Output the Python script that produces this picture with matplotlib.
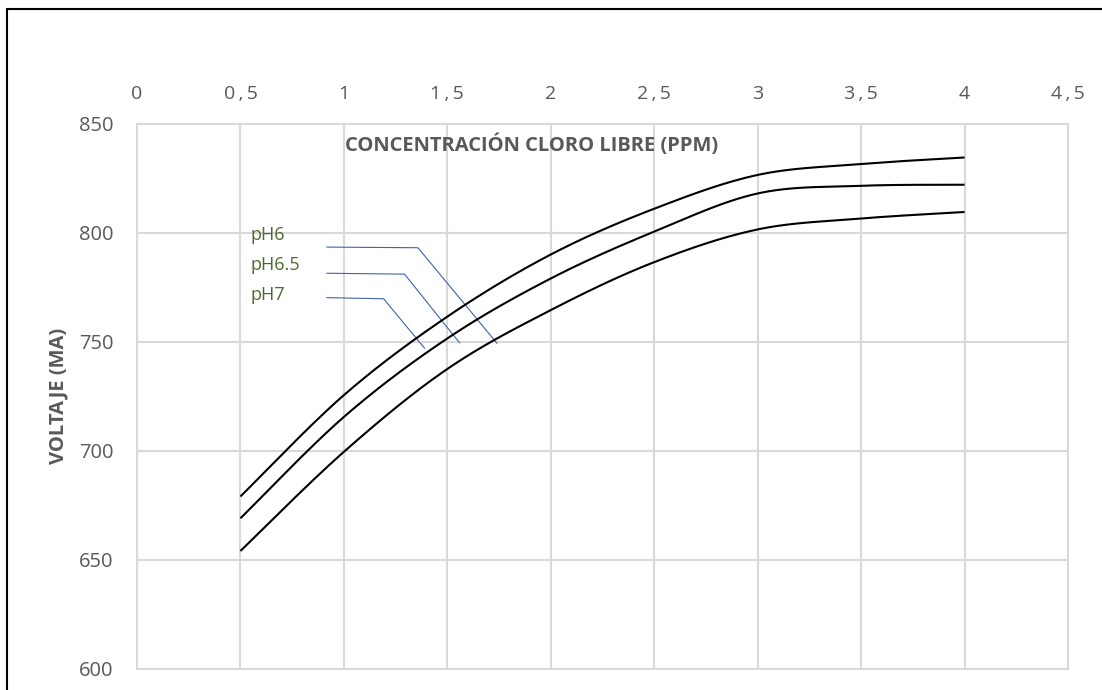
import numpy as np
import matplotlib
matplotlib.use("Agg")
import matplotlib.pyplot as plt
from matplotlib.patches import Rectangle

# Free chlorine concentration (ppm) and measured voltage for each pH
concentracion = [0.5, 1.0, 1.5, 2.0, 2.5, 3.0, 3.5, 4.0]
voltaje_ph6 = [679, 725.5, 761.5, 790, 811, 826.5, 831.5, 834.5]
voltaje_ph65 = [669, 715.5, 751.5, 779, 800.5, 818, 821.5, 822]
voltaje_ph7 = [654, 699.5, 737.5, 764.5, 786.5, 801.5, 806.5, 809.5]

x_ticks = [0, 0.5, 1, 1.5, 2, 2.5, 3, 3.5, 4, 4.5]
x_tick_labels = ["0", "0,5", "1", "1,5", "2", "2,5", "3", "3,5", "4", "4,5"]
y_ticks = [600, 650, 700, 750, 800, 850]

series_labels = ["pH6", "pH6.5", "pH7"]
# label text anchor and leader-line path (start, elbow, end) in data units
label_pos = [(0.55, 798.9), (0.55, 785.2), (0.55, 771.4)]
leader_paths = [
    [(0.918, 793.4), (1.358, 793.1), (1.740, 749.3)],
    [(0.918, 781.4), (1.293, 781.0), (1.559, 749.5)],
    [(0.918, 770.2), (1.192, 769.7), (1.390, 747.0)],
]


def smooth_curve(xs, ys, n=40):
    """Cubic Bezier smoothing through every point (spreadsheet-style)."""
    p = np.column_stack([xs, ys]).astype(float)
    m = len(p)
    out = []
    for i in range(m - 1):
        p0 = p[i]
        p3 = p[i + 1]
        prev = p[i - 1] if i > 0 else p[i]
        nxt = p[i + 2] if i + 2 < m else p[i + 1]
        c1 = p0 + (p3 - prev) / 6.0
        c2 = p3 - (nxt - p0) / 6.0
        t = np.linspace(0, 1, n)[:, None]
        seg = ((1 - t) ** 3) * p0 + 3 * ((1 - t) ** 2) * t * c1 \
            + 3 * (1 - t) * t ** 2 * c2 + t ** 3 * p3
        out.append(seg if i == 0 else seg[1:])
    s = np.vstack(out)
    return s[:, 0], s[:, 1]


def spaced(label):
    # letter-spaced tick text
    return "\u2009".join(label)


plt.rcParams["font.family"] = ["Open Sans", "DejaVu Sans"]

fig = plt.figure(figsize=(11.02, 6.90), dpi=100)
ax = fig.add_axes([137 / 1102, 1 - 668.7 / 690, (1068 - 137) / 1102, (668.7 - 123.7) / 690])

grid_color = "#d9d9d9"
text_gray = "#595959"

for ys in (voltaje_ph6, voltaje_ph65, voltaje_ph7):
    sx, sy = smooth_curve(concentracion, ys)
    ax.plot(sx, sy, color="black", lw=1.5, solid_capstyle="butt", zorder=3)

ax.set_xlim(0, 4.5)
ax.set_ylim(600, 850)
ax.set_xticks(x_ticks)
ax.set_xticklabels([spaced(t) for t in x_tick_labels])
ax.set_yticks(y_ticks)
ax.xaxis.tick_top()
ax.tick_params(axis="x", length=0, pad=15, labelsize=14, labelcolor=text_gray)
ax.tick_params(axis="y", length=0, pad=17, labelsize=14.5, labelcolor=text_gray)

ax.grid(True, color=grid_color, lw=1.5)
ax.set_axisbelow(True)
for sp in ax.spines.values():
    sp.set_color(grid_color)
    sp.set_linewidth(1.5)

ax.text(0.4237, 0.961, "CONCENTRACIÓN CLORO LIBRE (PPM)", transform=ax.transAxes,
        ha="center", va="center", fontsize=14.5, fontweight="bold", color=text_gray)
fig.text(58 / 1102, 1 - 396 / 690, "VOLTAJE (MA)", rotation=90, ha="center", va="center",
         fontsize=14.5, fontweight="bold", color=text_gray)

for lab, (tx, ty), path in zip(series_labels, label_pos, leader_paths):
    ax.text(tx, ty, lab, ha="left", va="center", fontsize=13, color="#4e6b2e", zorder=4)
    px, py = zip(*path)
    ax.plot(px, py, color="#3d64a8", lw=0.8, zorder=2)

# outer frame of the chart area
fig.add_artist(Rectangle((7 / 1102, -0.1), 1.2, 1.1 - 9 / 690, transform=fig.transFigure,
                         fill=False, edgecolor="black", lw=1.5, clip_on=False))

fig.savefig("out.png", dpi=100)
